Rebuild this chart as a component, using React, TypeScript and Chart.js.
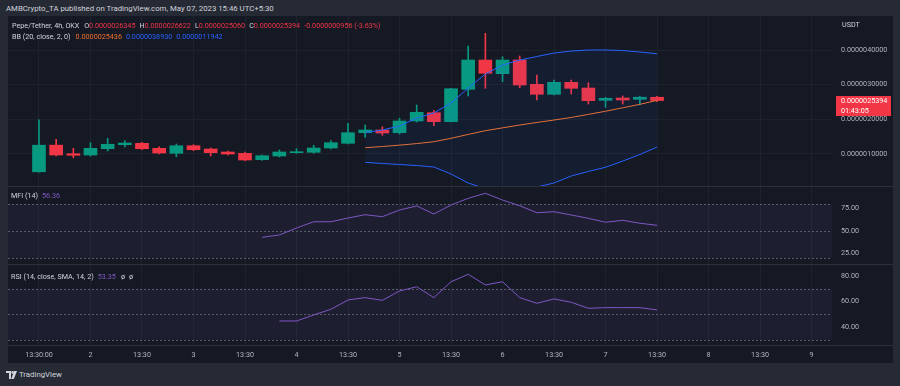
import React, { useEffect, useRef } from "react";
import { Chart, registerables } from "chart.js";

Chart.register(...registerables);

// ---------- DATA (prices in units of 1e-7 USDT) ----------
const PRICE_UNIT = 1e-7;
const timeTickIdx = [0, 3, 6, 9, 12, 15, 18, 21, 24, 27, 30, 33, 36, 39, 42, 45];
const timeTickLabels = ["13:30:00", "2", "13:30", "3", "13:30", "4", "13:30", "5", "13:30", "6", "13:30", "7", "13:30", "8", "13:30", "9"];

const opens = [4.8, 12.5, 10.03, 9.65, 11.47, 12.63, 13.03, 11.59, 10.14, 12.34, 11.39, 10.52, 10.14, 8.3, 9.36, 10.32, 10.43, 11.68, 13.03, 16.1, 16.88, 16.1, 19.48, 21.88, 19.28, 28.64, 37.11, 33.15, 37.11, 30.09, 27.2, 30.66, 29.02, 25.46, 26.13, 25.75, 26.345];
const highs = [19.8, 14.2, 11.6, 13.2, 14.48, 13.79, 13.3, 12.05, 12.83, 12.63, 11.68, 10.8, 10.52, 9.65, 11.1, 11.47, 12.46, 13.79, 18.8, 18.32, 17.83, 20.26, 24.1, 22.46, 28.9, 41.16, 44.83, 38.06, 38.27, 32.77, 31.33, 31.33, 30.55, 26.33, 26.71, 26.71, 26.622];
const lows = [4.7, 9.36, 8.87, 9.36, 10.8, 11.97, 11.2, 9.94, 9.16, 10.9, 9.36, 9.65, 8.0, 8.12, 9.07, 10.14, 10.14, 11.39, 12.83, 14.77, 15.35, 15.72, 19.19, 18.12, 19.19, 26.71, 28.93, 30.84, 29.1, 25.55, 26.99, 27.28, 24.39, 23.44, 24.39, 24.1, 25.06];
const closes = [12.5, 9.65, 9.57, 11.59, 12.75, 13.12, 11.47, 10.23, 12.34, 11.18, 10.32, 9.94, 8.21, 9.45, 10.52, 10.61, 11.68, 13.21, 16.1, 16.88, 16.01, 19.48, 21.99, 19.28, 28.81, 37.11, 33.27, 37.11, 29.88, 27.2, 30.66, 28.93, 25.35, 26.04, 25.55, 26.35, 25.394];

const bbStart = 19;
const bbUpper = [16.16, 16.88, 18.03, 20.35, 21.8, 24.7, 29.0, 33.06, 35.66, 37.1, 38.12, 39.13, 39.7, 40.0, 40.0, 39.86, 39.42, 38.93];
const bbBasis = [11.76, 12.1, 12.5, 12.95, 13.5, 14.48, 15.6, 16.68, 17.5, 18.32, 19.05, 19.77, 20.5, 21.4, 22.3, 23.3, 24.3, 25.436];
const bbLower = [7.54, 7.2, 6.9, 6.6, 6.18, 4.16, 1.56, -0.1, -0.46, -0.46, 0.4, 1.56, 3.58, 4.9, 6.1, 7.9, 9.8, 11.942];

const mfiStart = 13;
const mfiValues = [43.0, 45.6, 53.3, 60.3, 60.3, 64.4, 68.1, 65.9, 73.3, 77.8, 68.9, 78.9, 86.3, 91.9, 84.4, 78.1, 70.3, 71.4, 67.8, 64.1, 59.7, 61.9, 58.6, 56.36];
const rsiStart = 14;
const rsiValues = [44.7, 44.7, 49.4, 53.8, 61.1, 62.9, 60.8, 68.1, 71.4, 62.9, 75.3, 81.1, 72.8, 75.3, 62.9, 58.5, 61.9, 59.3, 54.6, 55.1, 55.1, 55.1, 53.35];

const priceTicks = [10, 20, 30, 40];
const mfiTicks = [25, 50, 75];
const mfiLevels = [80, 50, 20];
const rsiTicks = [40, 60, 80];
const rsiLevels = [70, 50, 30];
const countdown = "01:43:05";

// ---------- STYLE ----------
const FONT = "Roboto, 'Liberation Sans', sans-serif";
const FRAME = "#262a34";
const PANE = "#151924";
const GRID = "#1e222d";
const SEP = "#2c303b";
const TEXT = "#b2b5be";
const UP = "#089981";
const DOWN = "#f23645";
const ORANGE = "#f0702f";
const BLUE = "#2962ff";
const PURPLE = "#7e57c2";
const AXIS_W = 61;
const X_MIN = -1.805;
const X_MAX = 46.19;
const FS = 7.2;

const fmtP = (v: number) => (v * PRICE_UNIT).toFixed(10);

function xScale(showLabels: boolean): any {
  return {
    type: "linear",
    min: X_MIN,
    max: X_MAX,
    offset: false,
    afterBuildTicks: (ax: any) => {
      ax.ticks = timeTickIdx.map((v) => ({ value: v }));
    },
    afterFit: (ax: any) => {
      ax.height = showLabels ? 18 : 0;
      ax.paddingLeft = 0;
      ax.paddingRight = 0;
      ax.paddingTop = 0;
      ax.paddingBottom = 0;
    },
    grid: { color: GRID, drawTicks: false, offset: false },
    border: { display: false },
    ticks: {
      display: showLabels,
      padding: 6,
      color: TEXT,
      autoSkip: false,
      maxRotation: 0,
      font: { size: FS, family: FONT },
      callback: (_v: any, i: number) => timeTickLabels[i],
    },
  };
}

function yScale(min: number, max: number, ticks: number[], fmt: (v: number) => string, gridOn: boolean): any {
  return {
    type: "linear",
    position: "right",
    min,
    max,
    afterBuildTicks: (ax: any) => {
      ax.ticks = ticks.map((v) => ({ value: v }));
    },
    afterFit: (ax: any) => {
      ax.width = AXIS_W;
      ax.paddingTop = 0;
      ax.paddingBottom = 0;
    },
    grid: { color: GRID, drawTicks: false, display: gridOn },
    border: { display: false },
    ticks: {
      padding: 9,
      color: TEXT,
      font: { size: FS, family: FONT },
      callback: (v: any) => fmt(Number(v)),
    },
  };
}

function bandPlugin(levels: number[], fill: string): any {
  return {
    id: "bands",
    beforeDatasetsDraw(chart: any) {
      const { ctx, chartArea, scales } = chart;
      const y = scales.y;
      const top = y.getPixelForValue(levels[0]);
      const bot = y.getPixelForValue(levels[levels.length - 1]);
      ctx.save();
      ctx.fillStyle = fill;
      ctx.fillRect(chartArea.left, top, chartArea.right - chartArea.left, bot - top);
      ctx.strokeStyle = "rgba(140,143,154,0.55)";
      ctx.lineWidth = 1;
      ctx.setLineDash([2, 2]);
      levels.forEach((l) => {
        const py = Math.round(y.getPixelForValue(l)) + 0.5;
        ctx.beginPath();
        ctx.moveTo(chartArea.left, py);
        ctx.lineTo(chartArea.right, py);
        ctx.stroke();
      });
      ctx.restore();
    },
  };
}

const lastPricePlugin: any = {
  id: "lastPrice",
  afterDraw(chart: any) {
    const { ctx, chartArea, scales } = chart;
    const c = closes[closes.length - 1];
    const o = opens[opens.length - 1];
    const y = Math.round(scales.y.getPixelForValue(c * PRICE_UNIT));
    ctx.save();
    ctx.fillStyle = c >= o ? UP : DOWN;
    ctx.fillRect(chartArea.right + 4, y - 5, 55, 20);
    ctx.fillStyle = "#ffffff";
    ctx.font = `${FS}px ${FONT}`;
    ctx.textBaseline = "middle";
    ctx.textAlign = "left";
    ctx.fillText(fmtP(c), chartArea.right + 9, y + 0.5);
    ctx.fillText(countdown, chartArea.right + 9, y + 10);
    ctx.restore();
  },
};

const Txt = ({ x, y, children, style }: any) => (
  <div
    style={{
      position: "absolute",
      left: x,
      top: y - 5,
      lineHeight: "10px",
      fontSize: FS,
      whiteSpace: "nowrap",
      color: TEXT,
      ...style,
    }}
  >
    {children}
  </div>
);

export default function App() {
  const priceRef = useRef<HTMLCanvasElement>(null);
  const mfiRef = useRef<HTMLCanvasElement>(null);
  const rsiRef = useRef<HTMLCanvasElement>(null);

  useEffect(() => {
    Chart.defaults.font.family = FONT;
    const colorOf = (i: number) => (closes[i] >= opens[i] ? UP : DOWN);
    const idx = opens.map((_, i) => i);

    const priceChart = new Chart(priceRef.current as HTMLCanvasElement, {
      type: "bar",
      data: {
        datasets: [
          {
            type: "line",
            data: bbUpper.map((v, k) => ({ x: bbStart + k, y: v * PRICE_UNIT })),
            borderColor: BLUE,
            borderWidth: 1,
            pointRadius: 0,
            fill: { target: 2 },
            backgroundColor: "rgba(41,98,255,0.06)",
            order: 0,
          } as any,
          {
            type: "line",
            data: bbBasis.map((v, k) => ({ x: bbStart + k, y: v * PRICE_UNIT })),
            borderColor: ORANGE,
            borderWidth: 1,
            pointRadius: 0,
            fill: false,
            order: 0,
          } as any,
          {
            type: "line",
            data: bbLower.map((v, k) => ({ x: bbStart + k, y: v * PRICE_UNIT })),
            borderColor: BLUE,
            borderWidth: 1,
            pointRadius: 0,
            fill: false,
            order: 0,
          } as any,
          {
            type: "bar",
            data: idx.map((i) => ({ x: i, y: [opens[i] * PRICE_UNIT, closes[i] * PRICE_UNIT] })),
            backgroundColor: idx.map(colorOf),
            barThickness: 13,
            minBarLength: 1,
            grouped: false,
            borderWidth: 0,
            order: 1,
          } as any,
          {
            type: "bar",
            data: idx.map((i) => ({ x: i, y: [lows[i] * PRICE_UNIT, highs[i] * PRICE_UNIT] })),
            backgroundColor: idx.map(colorOf),
            barThickness: 1,
            grouped: false,
            borderWidth: 0,
            order: 2,
          } as any,
        ],
      },
      options: {
        responsive: false,
        animation: false,
        events: [],
        layout: { padding: 0 },
        plugins: { legend: { display: false }, tooltip: { enabled: false } },
        scales: {
          x: xScale(false),
          y: yScale(0.694 * PRICE_UNIT, 49.83 * PRICE_UNIT, priceTicks.map((t) => t * PRICE_UNIT), (v) => v.toFixed(10), true),
        },
      } as any,
      plugins: [lastPricePlugin],
    });

    const mfiChart = new Chart(mfiRef.current as HTMLCanvasElement, {
      type: "line",
      data: {
        datasets: [
          {
            data: mfiValues.map((v, k) => ({ x: mfiStart + k, y: v })),
            borderColor: PURPLE,
            borderWidth: 1,
            pointRadius: 0,
            fill: false,
          },
        ],
      },
      options: {
        responsive: false,
        animation: false,
        events: [],
        layout: { padding: 0 },
        plugins: { legend: { display: false }, tooltip: { enabled: false } },
        scales: {
          x: xScale(false),
          y: yScale(13.33, 100, mfiTicks, (v) => v.toFixed(2), false),
        },
      } as any,
      plugins: [bandPlugin(mfiLevels, "rgba(126,87,194,0.09)")],
    });

    const rsiChart = new Chart(rsiRef.current as HTMLCanvasElement, {
      type: "line",
      data: {
        datasets: [
          {
            data: rsiValues.map((v, k) => ({ x: rsiStart + k, y: v })),
            borderColor: PURPLE,
            borderWidth: 1,
            pointRadius: 0,
            fill: false,
          },
        ],
      },
      options: {
        responsive: false,
        animation: false,
        events: [],
        layout: { padding: 0 },
        plugins: { legend: { display: false }, tooltip: { enabled: false } },
        scales: {
          x: xScale(true),
          y: yScale(25.98, 89.14, rsiTicks, (v) => v.toFixed(2), false),
        },
      } as any,
      plugins: [bandPlugin(rsiLevels, "rgba(126,87,194,0.09)")],
    });

    return () => {
      priceChart.destroy();
      mfiChart.destroy();
      rsiChart.destroy();
    };
  }, []);

  const n = opens.length - 1;
  const change = closes[n] - closes[n - 1];
  const pct = (change / closes[n - 1]) * 100;
  const legColor = closes[n] >= opens[n] ? UP : DOWN;
  const light = "#d1d4dc";

  return (
    <div
      style={{
        position: "fixed",
        left: 0,
        top: 0,
        width: 900,
        height: 386,
        background: FRAME,
        overflow: "hidden",
        fontFamily: FONT,
      }}
    >
      <div style={{ position: "absolute", left: 8, top: 16, width: 885, height: 347, background: PANE }} />
      <canvas ref={priceRef} width={885} height={170} style={{ position: "absolute", left: 8, top: 16 }} />
      <canvas ref={mfiRef} width={885} height={78} style={{ position: "absolute", left: 8, top: 186 }} />
      <canvas ref={rsiRef} width={885} height={99} style={{ position: "absolute", left: 8, top: 264 }} />
      <div style={{ position: "absolute", left: 8, top: 186, width: 885, height: 1, background: SEP }} />
      <div style={{ position: "absolute", left: 8, top: 264, width: 885, height: 1, background: SEP }} />
      <div style={{ position: "absolute", left: 8, top: 345, width: 885, height: 1, background: SEP }} />

      <Txt x={6} y={9} style={{ color: light, fontSize: 7.8 }}>
        AMBCrypto_TA published on TradingView.com, May 07, 2023 15:46 UTC+5:30
      </Txt>

      <Txt x={12} y={26} style={{ color: light }}>
        Pepe/Tether, 4h, OKX{"  "}
        <span style={{ marginLeft: 3 }}>O</span>
        <span style={{ color: legColor }}>{fmtP(opens[n])}</span>
        <span style={{ marginLeft: 4 }}>H</span>
        <span style={{ color: legColor }}>{fmtP(highs[n])}</span>
        <span style={{ marginLeft: 4 }}>L</span>
        <span style={{ color: legColor }}>{fmtP(lows[n])}</span>
        <span style={{ marginLeft: 4 }}>C</span>
        <span style={{ color: legColor }}>{fmtP(closes[n])}</span>
        <span style={{ color: legColor, marginLeft: 4 }}>
          {fmtP(change)} ({pct.toFixed(2)}%)
        </span>
      </Txt>
      <Txt x={12} y={37} style={{ color: light }}>
        BB (20, close, 2, 0)
        <span style={{ color: ORANGE, marginLeft: 5 }}>{fmtP(bbBasis[bbBasis.length - 1])}</span>
        <span style={{ color: BLUE, marginLeft: 4 }}>{fmtP(bbUpper[bbUpper.length - 1])}</span>
        <span style={{ color: BLUE, marginLeft: 4 }}>{fmtP(bbLower[bbLower.length - 1])}</span>
      </Txt>
      <Txt x={842} y={25} style={{ color: light }}>
        USDT
      </Txt>

      <Txt x={11} y={196} style={{ color: light }}>
        MFI (14)
        <span style={{ color: PURPLE, marginLeft: 4 }}>{mfiValues[mfiValues.length - 1].toFixed(2)}</span>
      </Txt>
      <Txt x={11} y={277} style={{ color: light }}>
        RSI (14, close, SMA, 14, 2)
        <span style={{ color: PURPLE, marginLeft: 4 }}>{rsiValues[rsiValues.length - 1].toFixed(2)}</span>
        <span style={{ marginLeft: 5 }}>ø</span>
        <span style={{ marginLeft: 4 }}>ø</span>
      </Txt>

      <svg width={11} height={8} viewBox="0 0 11 8" style={{ position: "absolute", left: 6, top: 371 }}>
        <path d="M0 0h5v8H3V2H0z" fill={light} />
        <circle cx={6.6} cy={1.4} r={1.3} fill={light} />
        <path d="M8 0h3l-3.2 8H5.3z" fill={light} />
      </svg>
      <Txt x={19} y={375} style={{ color: light, fontSize: 7.8 }}>
        TradingView
      </Txt>
    </div>
  );
}
